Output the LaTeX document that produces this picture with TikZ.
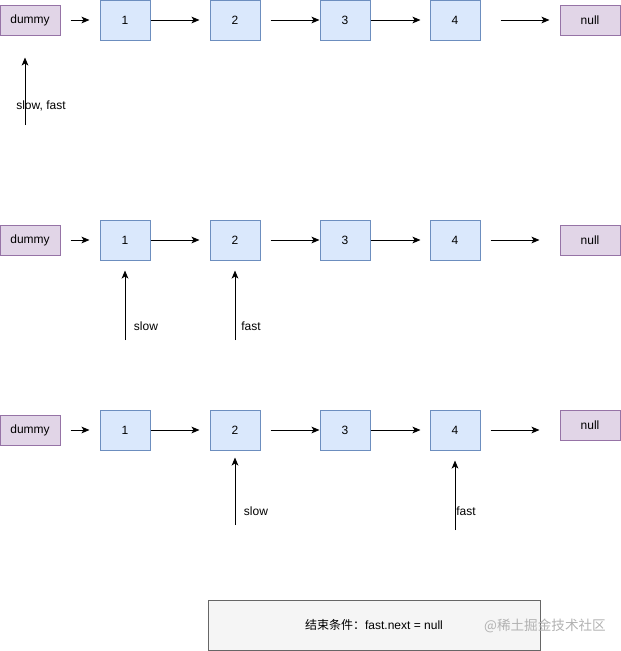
\documentclass[tikz,border=0pt]{standalone}
\usepackage{fontspec}
\setmainfont{Liberation Sans}
\newfontfamily\cjk{Noto Sans CJK SC}
\usetikzlibrary{arrows.meta}
\definecolor{listfill}{HTML}{DAE8FC}
\definecolor{listline}{HTML}{6C8EBF}
\definecolor{endfill}{HTML}{E1D5E7}
\definecolor{endline}{HTML}{9673A6}
\definecolor{notefill}{HTML}{F5F5F5}
\definecolor{noteline}{HTML}{666666}
\tikzset{
    listnode/.style={draw=listline, fill=listfill, line width=0.75pt, inner sep=0pt,
        minimum width=37.5pt, minimum height=30pt},
    endnode/.style={draw=endline, fill=endfill, line width=0.75pt, inner sep=0pt,
        minimum width=45pt, minimum height=22.5pt},
    link/.style={-{Stealth[length=6pt, width=5pt, inset=1.5pt]}, line width=0.75pt},
    tag/.style={inner sep=0pt}
}

\begin{document}
\begin{tikzpicture}[x=0.75pt, y=-0.75pt, font=\fontsize{9}{11}\selectfont]

\useasboundingbox (0,0) rectangle (621,651);

% three states of the list
\foreach \r/\y/\ny in {a/20/20, b/240/240, c/430/425} {
    \node[endnode] (\r d) at (30,\y) {dummy};
    \foreach \i/\x in {1/125, 2/235, 3/345, 4/455}
        \node[listnode] (\r\i) at (\x,\y) {\i};
    \node[endnode] (\r n) at (590,\ny) {null};
    \draw[link, shorten <=7.5pt, shorten >=7.5pt] (\r d) -- (\r1);
    \draw[link, shorten >=7.5pt] (\r1) -- (\r2);
    \draw[link, shorten <=7.5pt] (\r2) -- (\r3);
    \draw[link, shorten >=6.75pt] (\r3) -- (\r4);
}
\draw[link, shorten <=15pt, shorten >=7.5pt] (a4) -- (an);
\draw[link, shorten <=7.5pt, shorten >=15pt] (b4) -- (bn);
\draw[link, shorten <=7.5pt, shorten >=15pt] (c4.east) -- (c4.east -| cn.west);

% pointers
\coordinate (pa) at (25,125);
\coordinate (pbs) at (125,340);
\coordinate (pbf) at (235,340);
\coordinate (pcs) at (235,525);
\coordinate (pcf) at (455,530);

\draw[link, shorten >=16.5pt] (pa) -- (pa |- ad.south);
\draw[link, shorten >=7.5pt] (pbs) -- (b1.south);
\draw[link, shorten >=7.5pt] (pbf) -- (b2.south);
\draw[link, shorten >=5.25pt] (pcs) -- (c2.south);
\draw[link, shorten >=7.5pt] (pcf) -- (c4.south);

\node[tag] (la) at (41,106) {slow, fast};
\node[tag] (lbs) at (146,326) {slow};
\node[tag] (lbf) at (251,326) {fast};
\node[tag] (lcs) at (256,511) {slow};
\node[tag] (lcf) at (466,511) {fast};

% end condition
\node[draw=noteline, fill=notefill, line width=0.75pt, minimum width=249pt, minimum height=37.5pt]
    (cond) at (374,625) {{\cjk 结束条件：}fast.next = null};
\node[tag, text=black!30, font=\cjk\fontsize{10.2}{12}\selectfont] (mark) at (545,626) {@稀土掘金技术社区};

\end{tikzpicture}
\end{document}
